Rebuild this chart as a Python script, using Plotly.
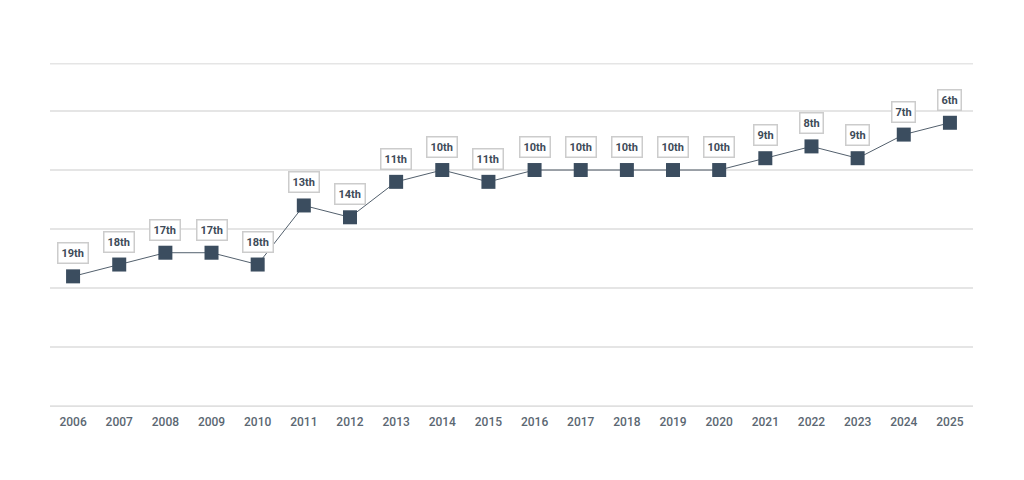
import plotly.graph_objects as go

years = list(range(2006, 2026))
ranks = [19, 18, 17, 17, 18, 13, 14, 11, 10, 11, 10, 10, 10, 10, 10, 9, 8, 9, 7, 6]
rank_labels = ["19th", "18th", "17th", "17th", "18th", "13th", "14th", "11th", "10th", "11th",
               "10th", "10th", "10th", "10th", "10th", "9th", "8th", "9th", "7th", "6th"]
grid_vals = [1, 5, 10, 15, 20, 25, 30]
edge_vals = [1, 30]

fig = go.Figure()
fig.add_trace(go.Scatter(
    x=years, y=ranks, mode="lines+markers",
    line=dict(color="#53606d", width=1),
    marker=dict(symbol="square", size=14, color="#3b4d5f"),
    hoverinfo="skip", showlegend=False,
))

for x, y, t in zip(years, ranks, rank_labels):
    fig.add_annotation(
        x=x, y=y, text="<b>%s</b>" % t, showarrow=False, yshift=23,
        font=dict(family="Roboto, sans-serif", size=11, color="#3e4b58"),
        bgcolor="#ffffff", bordercolor="#cccccc", borderwidth=1.5, borderpad=3,
    )

for v in edge_vals:
    fig.add_shape(type="line", xref="paper", x0=0, x1=1, yref="y", y0=v, y1=v,
                  line=dict(color="#e0e0e0" if v == 30 else "#e5e5e5", width=2 if v == 30 else 1.5),
                  layer="below")

fig.update_layout(
    width=1008, height=464,
    margin=dict(l=42, r=43, t=55, b=65),
    paper_bgcolor="#ffffff", plot_bgcolor="#ffffff",
    xaxis=dict(
        range=[2005.5, 2025.5], tickvals=years, ticktext=[str(y) for y in years],
        showgrid=False, zeroline=False, showline=False, ticks="",
        ticklabelstandoff=6,
        tickfont=dict(family="Roboto, sans-serif", size=12, color="#5b6772", weight=500),
    ),
    yaxis=dict(
        range=[30.06, 0.94], tickvals=grid_vals, showticklabels=False,
        showgrid=True, gridcolor="#e5e5e5", gridwidth=1.5, zeroline=False, showline=False,
    ),
)

fig.write_html("out.html")
